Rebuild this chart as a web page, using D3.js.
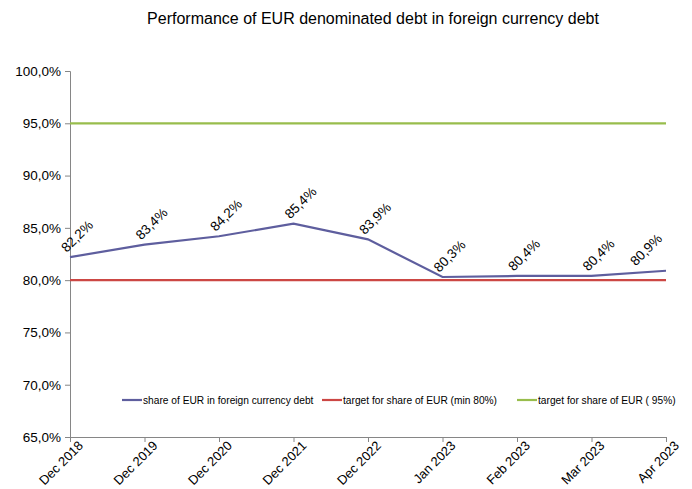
<!DOCTYPE html>
<html>
<head>
<meta charset="utf-8">
<script src="https://cdn.jsdelivr.net/npm/d3@7"></script>
<style>
  body { margin: 0; background: #fff; }
  text { font-family: "Liberation Sans", Arial, sans-serif; fill: #000; }
</style>
</head>
<body>
<svg id="chart" width="692" height="489"></svg>
<script>
const categories = ["Dec 2018", "Dec 2019", "Dec 2020", "Dec 2021", "Dec 2022", "Jan 2023", "Feb 2023", "Mar 2023", "Apr 2023"];
const shareEur = [82.2, 83.4, 84.2, 85.4, 83.9, 80.3, 80.4, 80.4, 80.9];
const targetMin = [80, 80, 80, 80, 80, 80, 80, 80, 80];
const target95 = [95, 95, 95, 95, 95, 95, 95, 95, 95];
const yTicks = [65, 70, 75, 80, 85, 90, 95, 100];
const seriesNames = ["share of EUR in foreign currency debt", "target for share of EUR (min 80%)", "target for share of EUR ( 95%)"];

const fmt = v => d3.format(".1f")(v).replace(".", ",") + "%";

const margin = { top: 71, right: 26, bottom: 52, left: 70 };
const width = 692 - margin.left - margin.right,
  height = 489 - margin.top - margin.bottom;

const svg = d3.select("#chart");

svg.append("text")
  .attr("x", 373).attr("y", 24)
  .attr("text-anchor", "middle")
  .style("font-size", "16px")
  .text("Performance of EUR denominated debt in foreign currency debt");

const g = svg.append("g").attr("transform", `translate(${margin.left},${margin.top})`);

const x = d3.scalePoint().domain(categories).range([0, width]);
const y = d3.scaleLinear().domain([65, 100]).range([height, 0]);

// y axis
const yAxis = g.append("g")
  .call(d3.axisLeft(y).tickValues(yTicks).tickSize(5).tickFormat(fmt));
yAxis.select(".domain").attr("stroke", "#868686");
yAxis.selectAll(".tick line").attr("stroke", "#868686");
yAxis.selectAll(".tick text")
  .attr("x", -9)
  .style("font-size", "13.5px")
  .style("font-family", "Liberation Sans, Arial, sans-serif");

// x axis
const xAxis = g.append("g")
  .attr("transform", `translate(0,${height})`)
  .call(d3.axisBottom(x).tickSize(5).tickSizeOuter(0));
xAxis.select(".domain").attr("stroke", "#868686");
xAxis.selectAll(".tick line").attr("stroke", "#868686");
xAxis.selectAll(".tick text")
  .attr("text-anchor", "end")
  .attr("transform", "translate(6,2) rotate(-45)")
  .attr("x", 0).attr("y", 6).attr("dy", "0.35em")
  .style("font-size", "13px")
  .style("font-family", "Liberation Sans, Arial, sans-serif");

const line = d3.line().x((d, i) => x(categories[i])).y(d => y(d));

const series = [
  { values: targetMin, color: "#cc4744" },
  { values: target95, color: "#98bd4c" },
  { values: shareEur, color: "#5e5e9e" }
];

g.selectAll(".series").data(series).join("path")
  .attr("class", "series")
  .attr("d", d => line(d.values))
  .attr("fill", "none")
  .attr("stroke", d => d.color)
  .attr("stroke-width", 2.2);

// data labels
g.selectAll(".dlabel").data(shareEur).join("text")
  .attr("class", "dlabel")
  .attr("text-anchor", "middle")
  .attr("transform", (d, i) => {
    let cx = x(categories[i]) + 7;
    if (i === shareEur.length - 1) cx = x(categories[i]) - 20;
    const cy = y(d) - 21;
    return `translate(${cx},${cy}) rotate(-45)`;
  })
  .attr("dy", "0.35em")
  .style("font-size", "13.5px")
  .text(d => fmt(d));

// legend
const legendColors = ["#5e5e9e", "#cc4744", "#98bd4c"];
const legendX = [122, 322, 517];
const legend = svg.append("g").attr("transform", "translate(0,400)");
seriesNames.forEach((name, i) => {
  legend.append("line")
    .attr("x1", legendX[i]).attr("x2", legendX[i] + 20)
    .attr("y1", 0).attr("y2", 0)
    .attr("stroke", legendColors[i]).attr("stroke-width", 2.2);
  legend.append("text")
    .attr("x", legendX[i] + 21).attr("y", 0)
    .attr("dy", "0.35em")
    .style("font-size", "10.2px")
    .text(name);
});
</script>
</body>
</html>
